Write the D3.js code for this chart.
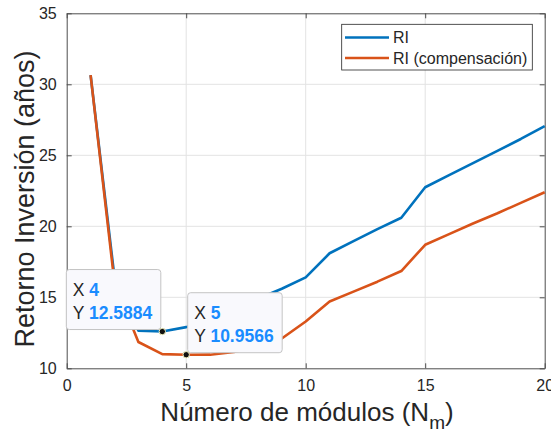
<!DOCTYPE html>
<html lang="es">
<head>
<meta charset="utf-8">
<title>Retorno inversión</title>
<script src="https://cdn.jsdelivr.net/npm/d3@7"></script>
<style>
  body { margin:0; background:#fff; }
  svg text { font-family: "Liberation Sans", Arial, Helvetica, sans-serif; }
</style>
</head>
<body>
<div id="chart"></div>
<script>
// numero de modulos
var nModulos = [1,2,3,4,5,6,7,8,9,10,11,12,13,14,15,16,17,18,19,20]
// RI (años)
var riValues = [30.65,16.4,12.65,12.5884,12.9,13.5,14.2,14.9,15.6,16.4,18.1,18.95,19.8,20.6,22.75,23.6,24.45,25.3,26.15,27.05]
// RI con compensacion
var riCompValues = [30.65,16.0,11.85,11.0,10.9566,10.96,11.15,11.55,12.1,13.3,14.7,15.4,16.1,16.85,18.7,19.45,20.2,20.9,21.65,22.4]
var seriesNames = ["RI","RI (compensación)"]
var seriesColors = ["#0072BD","#D95319"]
var xTicks = [0,5,10,15,20]
var yTicks = [10,15,20,25,30,35]
// data tips: x value and which series
var tipX = [4,5]
var tipSeries = [0,1]
var tipSide = ["left","right"]

var w = 551, h = 435
// plot box (window.top is taken, so prefixed names)
var pLeft = 66.7, pRight = 544.7, pTop = 13.3, pBottom = 368.3

var svg = d3.select("#chart").append("svg")
  .attr("width",w).attr("height",h)

var xScale = d3.scaleLinear().domain([0,20]).range([pLeft,pRight])
var yScale = d3.scaleLinear().domain([10,35]).range([pBottom,pTop])

// grid
svg.append("g").selectAll("line").data(xTicks.slice(1,-1)).enter().append("line")
  .attr("x1",function(d){return xScale(d)}).attr("x2",function(d){return xScale(d)})
  .attr("y1",pTop).attr("y2",pBottom)
  .attr("stroke","#e3e3e3").attr("stroke-width",1)
svg.append("g").selectAll("line").data(yTicks.slice(1,-1)).enter().append("line")
  .attr("y1",function(d){return yScale(d)}).attr("y2",function(d){return yScale(d)})
  .attr("x1",pLeft).attr("x2",pRight)
  .attr("stroke","#e3e3e3").attr("stroke-width",1)

// axes (ticks inward, box on)
var axisColor = "#4d4d4d"
function styleAxis(g){
  g.select(".domain").attr("stroke",axisColor).attr("stroke-width",1)
  g.selectAll(".tick line").attr("stroke",axisColor)
  g.selectAll(".tick text").attr("fill","#262626").attr("font-size","16px")
    .attr("font-family","'Liberation Sans', Arial, sans-serif")
}
svg.append("g").attr("transform","translate(0,"+pBottom+")")
  .call(d3.axisBottom(xScale).tickValues(xTicks).tickSizeInner(-5).tickSizeOuter(0).tickPadding(11))
  .call(styleAxis)
svg.append("g").attr("transform","translate(0,"+pTop+")")
  .call(d3.axisTop(xScale).tickValues(xTicks).tickSizeInner(-5).tickSizeOuter(0).tickFormat(""))
  .call(styleAxis)
svg.append("g").attr("transform","translate("+pLeft+",0)")
  .call(d3.axisLeft(yScale).tickValues(yTicks).tickSizeInner(-5).tickSizeOuter(0).tickPadding(10))
  .call(styleAxis)
svg.append("g").attr("transform","translate("+pRight+",0)")
  .call(d3.axisRight(yScale).tickValues(yTicks).tickSizeInner(-5).tickSizeOuter(0).tickFormat(""))
  .call(styleAxis)

// lines
var allSeries = [riValues, riCompValues]
var line = d3.line()
  .x(function(d,i){ return xScale(nModulos[i]) })
  .y(function(d){ return yScale(d) })
svg.append("g").selectAll("path").data(allSeries).enter().append("path")
  .attr("d",line)
  .attr("fill","none")
  .attr("stroke",function(d,i){return seriesColors[i]})
  .attr("stroke-width",2.6)
  .attr("stroke-linejoin","round")

// axis labels
var xl = svg.append("text")
  .attr("x",307).attr("y",421)
  .attr("text-anchor","middle").attr("font-size","26px").attr("fill","#262626")
xl.append("tspan").text("Número de módulos (N")
xl.append("tspan").attr("font-size","19px").attr("dy",8).text("m")
xl.append("tspan").attr("dy",-8).text(")")

svg.append("text")
  .attr("transform","translate(34,199) rotate(-90)")
  .attr("text-anchor","middle").attr("font-size","27px").attr("fill","#262626")
  .text("Retorno Inversión (años)")

// legend
var leg = svg.append("g")
leg.append("rect").attr("x",341.7).attr("y",24.3).attr("width",190.6).attr("height",45.7)
  .attr("fill","#fff").attr("stroke","#262626").attr("stroke-width",0.8)
seriesNames.forEach(function(name,i){
  var ly = 37.5 + i*20.5
  leg.append("line").attr("x1",345).attr("x2",389).attr("y1",ly).attr("y2",ly)
    .attr("stroke",seriesColors[i]).attr("stroke-width",2.6)
  leg.append("text").attr("x",393).attr("y",ly+5.5)
    .attr("font-size","16px").attr("fill","#262626").text(name)
})

// data tips
tipX.forEach(function(xv,k){
  var vals = allSeries[tipSeries[k]]
  var yv = vals[nModulos.indexOf(xv)]
  var px = xScale(xv), py = yScale(yv)
  var g = svg.append("g")
  var box = g.append("rect").attr("rx",3).attr("ry",3)
    .attr("fill","#f9f9fd").attr("stroke","#c4c4c4").attr("stroke-width",1)
  var t1 = g.append("text").attr("font-size","17.5px")
  t1.append("tspan").attr("fill","#262626").text("X ")
  t1.append("tspan").attr("fill","#1a8cff").attr("font-weight","bold").text(String(xv))
  var t2 = g.append("text").attr("font-size","17.5px")
  t2.append("tspan").attr("fill","#262626").text("Y ")
  t2.append("tspan").attr("fill","#1a8cff").attr("font-weight","bold").text(String(yv))
  var tw = Math.max(t1.node().getComputedTextLength(), t2.node().getComputedTextLength())
  var bw = tw + 15, bh = 60
  var bx = tipSide[k]=="left" ? px - 1.5 - bw : px + 1.5
  var by = py - 2 - bh
  box.attr("x",bx).attr("y",by).attr("width",bw).attr("height",bh)
  t1.attr("x",bx+6.5).attr("y",by+26)
  t2.attr("x",bx+6.5).attr("y",by+49)
  svg.append("circle").attr("cx",px).attr("cy",py).attr("r",3.2)
    .attr("fill","#111").attr("stroke","#f3f3c0").attr("stroke-width",1)
})
</script>
</body>
</html>
